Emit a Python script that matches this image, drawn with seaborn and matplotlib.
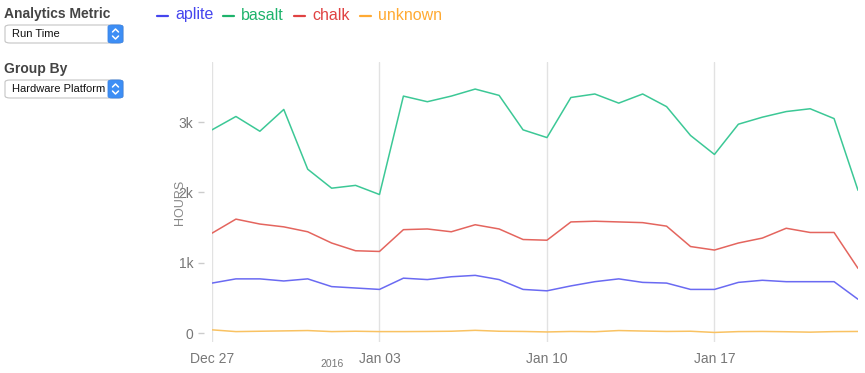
import numpy as np
import pandas as pd
import matplotlib
matplotlib.use("Agg")
import matplotlib.pyplot as plt
from matplotlib.patches import FancyBboxPatch
from matplotlib.lines import Line2D
import seaborn as sns

# ---------------- data ----------------
dates = pd.date_range("2015-12-27", "2016-01-23", freq="D")
series_names = ["aplite", "basalt", "chalk", "unknown"]
aplite = [710, 770, 770, 740, 770, 660, 640, 620, 780, 760, 800, 820, 760, 620,
          600, 670, 730, 770, 720, 710, 620, 620, 720, 750, 730, 730, 730, 480]
basalt = [2890, 3080, 2870, 3180, 2330, 2060, 2100, 1970, 3370, 3290, 3370, 3470,
          3380, 2890, 2780, 3350, 3400, 3270, 3400, 3220, 2810, 2540, 2970, 3070,
          3150, 3190, 3050, 2030]
chalk = [1420, 1620, 1550, 1510, 1440, 1280, 1170, 1160, 1470, 1480, 1440, 1540,
         1480, 1330, 1320, 1580, 1590, 1580, 1570, 1520, 1230, 1180, 1280, 1350,
         1490, 1430, 1430, 920]
unknown = [45, 20, 25, 30, 35, 20, 25, 20, 20, 22, 25, 38, 25, 22, 15, 22, 18, 35,
           28, 22, 25, 8, 20, 22, 18, 12, 20, 22]
y_ticks = [0, 1000, 2000, 3000]
y_tick_labels = ["0", "1k", "2k", "3k"]
x_tick_dates = ["2015-12-27", "2016-01-03", "2016-01-10", "2016-01-17"]
x_tick_labels = ["Dec 27", "Jan 03", "Jan 10", "Jan 17"]

line_colors = {"aplite": "#6a6af2", "basalt": "#3cc896", "chalk": "#e4655e", "unknown": "#f9c262"}
text_colors = {"aplite": "#4545ee", "basalt": "#1db36b", "chalk": "#e04242", "unknown": "#ffaa33"}

df = pd.DataFrame({
    "date": np.tile(dates, 4),
    "hours": aplite + basalt + chalk + unknown,
    "platform": np.repeat(series_names, len(dates)),
})

# ---------------- figure ----------------
sns.set_theme(style="white")
plt.rcParams["font.family"] = ["Liberation Sans", "DejaVu Sans"]

W, H = 865, 373
fig = plt.figure(figsize=(W / 100, H / 100), dpi=100)
fig.patch.set_facecolor("white")

def fx(px):
    return px / W

def fy(py):
    return 1 - py / H

ax = fig.add_axes([fx(212), fy(342), fx(858) - fx(212), fy(62) - fy(342)])

sns.lineplot(data=df, x="date", y="hours", hue="platform", palette=line_colors,
             hue_order=series_names, linewidth=1.1, legend=False, ax=ax)

ax.set_xlim(dates[0], dates[-1])
ax.set_ylim(-128, 3855)

for s in ["top", "right", "bottom"]:
    ax.spines[s].set_visible(False)
ax.spines["left"].set_position(("outward", 6))
ax.spines["left"].set_visible(False)

ax.set_yticks(y_ticks)
ax.set_yticklabels(y_tick_labels)
ax.tick_params(axis="y", length=4, width=1, color="#cccccc", pad=3.5,
               labelsize=10, labelcolor="#777777", left=True, direction="out")

xt = pd.to_datetime(x_tick_dates)
ax.set_xticks(xt)
ax.set_xticklabels(x_tick_labels)
ax.tick_params(axis="x", length=0, pad=7, labelsize=10, labelcolor="#777777")
ax.xaxis.grid(True, color="#e2e2e2", linewidth=1)
ax.yaxis.grid(False)
ax.set_xlabel("")
ax.set_ylabel("")

fig.text(fx(180), fy(202), "HOURS", rotation=90, ha="center", va="center",
         fontsize=9, color="#888888")
fig.text(fx(332), fy(364), "2016", ha="center", va="center", fontsize=7.5, color="#777777")

# ---------------- legend (colored text) ----------------
fig.canvas.draw()
renderer = fig.canvas.get_renderer()
xpos = 157
for name in series_names:
    fig.add_artist(Line2D([fx(xpos), fx(xpos + 11)], [fy(15.5), fy(15.5)],
                          transform=fig.transFigure, color=text_colors[name], linewidth=1.6))
    xpos += 18
    t2 = fig.text(fx(xpos), fy(15), name, ha="left", va="center",
                  fontsize=11.5, color=text_colors[name])
    w2 = t2.get_window_extent(renderer).width
    xpos += w2 + 10

# ---------------- left controls ----------------
def select_box(y_top, label):
    h = 18
    box = FancyBboxPatch((fx(5), fy(y_top + h)), fx(123) - fx(5), fy(y_top) - fy(y_top + h),
                         boxstyle="round,pad=0,rounding_size=0.006",
                         transform=fig.transFigure, facecolor="white",
                         edgecolor="#c4c4c4", linewidth=0.8)
    fig.add_artist(box)
    step = FancyBboxPatch((fx(108), fy(y_top + h)), fx(123) - fx(108), fy(y_top) - fy(y_top + h),
                          boxstyle="round,pad=0,rounding_size=0.005",
                          transform=fig.transFigure, facecolor="#3d8ef5",
                          edgecolor="#3a84e6", linewidth=0.6)
    fig.add_artist(step)
    cx = 115.5
    cy = y_top + h / 2
    fig.add_artist(Line2D([fx(cx - 3), fx(cx), fx(cx + 3)],
                          [fy(cy - 2), fy(cy - 5), fy(cy - 2)],
                          transform=fig.transFigure, color="white", linewidth=1.1))
    fig.add_artist(Line2D([fx(cx - 3), fx(cx), fx(cx + 3)],
                          [fy(cy + 2), fy(cy + 5), fy(cy + 2)],
                          transform=fig.transFigure, color="white", linewidth=1.1))
    fig.text(fx(12), fy(cy), label, ha="left", va="center",
             fontsize=8, color="#111111")

fig.text(fx(4), fy(14), "Analytics Metric", ha="left", va="center",
         fontsize=10, fontweight="bold", color="#444444")
select_box(25, "Run Time")
fig.text(fx(4), fy(69), "Group By", ha="left", va="center",
         fontsize=10, fontweight="bold", color="#444444")
select_box(80, "Hardware Platform")

fig.savefig("out.png", dpi=100, facecolor="white")
